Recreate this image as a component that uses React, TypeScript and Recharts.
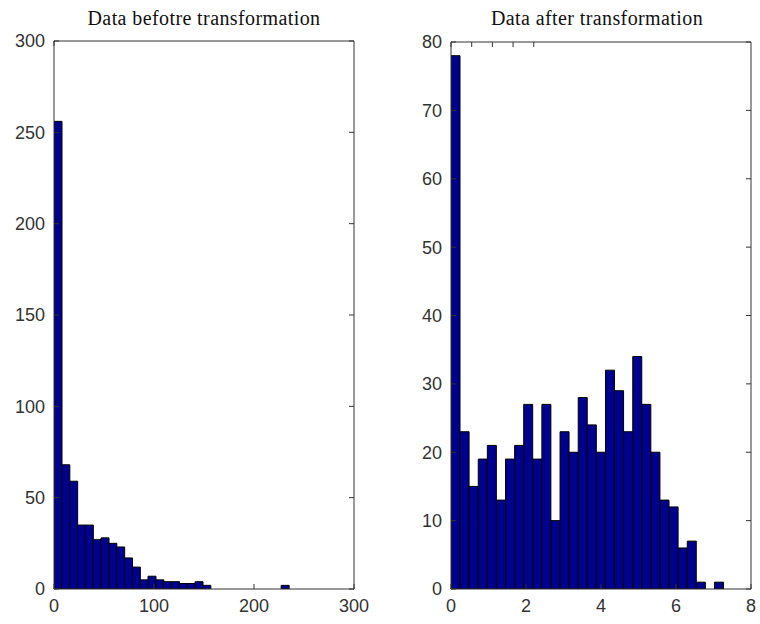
import { BarChart, Bar, XAxis, YAxis } from "recharts";

// histogram counts, 30 bins each
const beforeCounts = [256, 68, 59, 35, 35, 27, 28, 25, 23, 17, 12, 5, 7, 5, 4, 4, 3, 3, 4, 2, 0, 0, 0, 0, 0, 0, 0, 0, 0, 2];
const afterCounts = [78, 23, 15, 19, 21, 13, 19, 21, 27, 19, 27, 10, 23, 20, 28, 24, 20, 32, 29, 23, 34, 27, 20, 13, 12, 6, 7, 1, 0, 1];

// data range of each sample (bin edges span min..max)
const beforeRange = [0, 235];
const afterRange = [0, 7.27];

const beforeXTicks = [0, 100, 200, 300];
const beforeYTicks = [0, 50, 100, 150, 200, 250, 300];
const afterXTicks = [0, 2, 4, 6, 8];
const afterYTicks = [0, 10, 20, 30, 40, 50, 60, 70, 80];

function toBins(counts: number[], range: number[]) {
  const w = (range[1] - range[0]) / counts.length;
  return counts.map((count, i) => ({ center: range[0] + (i + 0.5) * w, count }));
}

const tickFont = { fontFamily: "Liberation Sans, Arial, sans-serif", fontSize: 18, fill: "#333" };
const axisStroke = "#333";

function Histogram({
  counts,
  range,
  xTicks,
  yTicks,
  margin,
}: {
  counts: number[];
  range: number[];
  xTicks: number[];
  yTicks: number[];
  margin: { top: number; left: number; right: number; bottom: number };
}) {
  const xDomain = [xTicks[0], xTicks[xTicks.length - 1]];
  const yDomain = [yTicks[0], yTicks[yTicks.length - 1]];
  return (
    <BarChart
      width={380}
      height={624}
      data={toBins(counts, range)}
      margin={margin}
      barCategoryGap={0}
      barGap={0}
    >
      <XAxis
        dataKey="center"
        type="number"
        domain={xDomain}
        ticks={xTicks}
        allowDataOverflow
        height={30}
        tickSize={-5}
        tickMargin={15}
        tick={tickFont}
        stroke={axisStroke}
      />
      <XAxis
        xAxisId="top"
        orientation="top"
        type="number"
        domain={xDomain}
        ticks={xTicks}
        allowDataOverflow
        height={1}
        tickSize={-5}
        tickFormatter={() => ""}
        stroke={axisStroke}
      />
      <YAxis
        type="number"
        domain={yDomain}
        ticks={yTicks}
        allowDataOverflow
        width={44}
        tickSize={-5}
        tickMargin={14}
        tick={tickFont}
        stroke={axisStroke}
      />
      <YAxis
        yAxisId="right"
        orientation="right"
        type="number"
        domain={yDomain}
        ticks={yTicks}
        allowDataOverflow
        width={1}
        tickSize={-5}
        tickFormatter={() => ""}
        stroke={axisStroke}
      />
      <Bar dataKey="count" fill="#00008f" stroke="#000" strokeWidth={1} isAnimationActive={false} />
    </BarChart>
  );
}

const titleStyle: React.CSSProperties = {
  position: "absolute",
  top: 7,
  fontFamily: "Liberation Serif, Times New Roman, serif",
  fontSize: 20,
  letterSpacing: 0.4,
  color: "#111",
  textAlign: "center",
  whiteSpace: "nowrap",
};

export default function App() {
  return (
    <div style={{ position: "absolute", left: 0, top: 0, width: 760, height: 624, background: "#fff", overflow: "hidden" }}>
      <div style={{ ...titleStyle, left: 84, width: 240 }}>Data befotre transformation</div>
      <div style={{ ...titleStyle, left: 477, width: 240 }}>Data after transformation</div>
      <div style={{ position: "absolute", left: 0, top: 0 }}>
        <Histogram
          counts={beforeCounts}
          range={beforeRange}
          xTicks={beforeXTicks}
          yTicks={beforeYTicks}
          margin={{ top: 40, left: 10, right: 25, bottom: 5 }}
        />
      </div>
      <div style={{ position: "absolute", left: 380, top: 0 }}>
        <Histogram
          counts={afterCounts}
          range={afterRange}
          xTicks={afterXTicks}
          yTicks={afterYTicks}
          margin={{ top: 41, left: 27, right: 8, bottom: 5 }}
        />
      </div>
    </div>
  );
}
